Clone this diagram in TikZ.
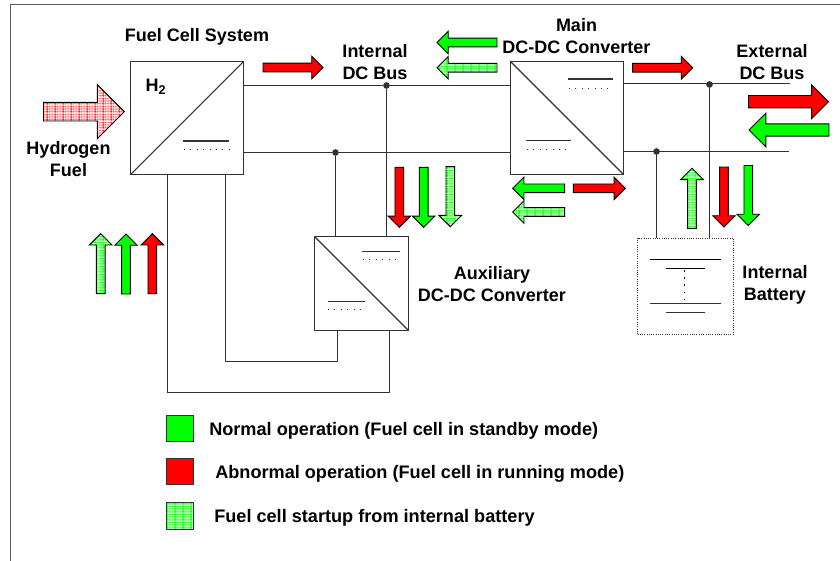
\documentclass[tikz,border=0pt]{standalone}
\usepackage{fontspec}
\setmainfont{Liberation Sans}
\usepackage{xcolor}
\usepackage{tikz}
\usetikzlibrary{shapes.arrows,patterns}

\definecolor{opgreen}{RGB}{0,255,0}
\definecolor{opred}{RGB}{255,0,0}
\definecolor{wiregray}{RGB}{50,50,50}

\pgfdeclarepatterninherentlycolored{startgrid}{\pgfqpoint{0pt}{0pt}}{\pgfqpoint{6pt}{6pt}}{\pgfqpoint{6pt}{6pt}}{
  \pgfsetfillcolor{opgreen}
  \pgfpathrectangle{\pgfqpoint{0pt}{0pt}}{\pgfqpoint{6pt}{6pt}}
  \pgfusepath{fill}
  \pgfsetfillcolor{white}
  \foreach \k in {0pt,1.5pt,3pt,4.5pt}{
    \pgfpathrectangle{\pgfqpoint{0pt}{\k}}{\pgfqpoint{6pt}{0.38pt}}
    \pgfpathrectangle{\pgfqpoint{\k}{0pt}}{\pgfqpoint{0.38pt}{6pt}}
  }
  \pgfusepath{fill}
}
\pgfdeclarepatterninherentlycolored{fuelgrid}{\pgfqpoint{0pt}{0pt}}{\pgfqpoint{6pt}{6pt}}{\pgfqpoint{6pt}{6pt}}{
  \pgfsetfillcolor{opred}
  \pgfpathrectangle{\pgfqpoint{0pt}{0pt}}{\pgfqpoint{6pt}{6pt}}
  \pgfusepath{fill}
  \pgfsetfillcolor{white}
  \foreach \k in {0pt,1.5pt,3pt,4.5pt}{
    \pgfpathrectangle{\pgfqpoint{0pt}{\k}}{\pgfqpoint{6pt}{0.62pt}}
    \pgfpathrectangle{\pgfqpoint{\k}{0pt}}{\pgfqpoint{0.62pt}{6pt}}
  }
  \pgfusepath{fill}
}

\tikzset{
  lbl/.style={font=\fontsize{13.5}{16.5}\selectfont\bfseries, align=center, inner sep=0pt},
  legendlbl/.style={font=\fontsize{13.6}{16}\selectfont\bfseries, anchor=west, inner sep=0pt},
  wire/.style={draw=wiregray, line width=0.8pt},
  convbox/.style={draw=wiregray, line width=0.9pt, fill=white, inner sep=0pt, outer sep=0pt},
  solidbar/.style={line width=0.8pt, draw=wiregray},
  dotbar/.style={line width=0.7pt, draw=wiregray, dash pattern=on 0.8pt off 4pt},
  busdot/.style={circle, fill=wiregray, inner sep=0pt, minimum size=5pt},
  blockarrow/.style={shape=single arrow, draw=black, line width=0.7pt, inner xsep=0pt, inner ysep=2.9pt, outer sep=0pt,
    anchor=tail, minimum height=45pt, minimum width=16.5pt, single arrow head extend=5.2pt},
  shortarrow/.style={blockarrow, minimum height=39pt},
  bigarrow/.style={blockarrow, minimum height=60pt, inner ysep=4.3pt, minimum width=24.75pt, single arrow head extend=8pt},
  fuelarrow/.style={blockarrow, minimum height=60.6pt, inner ysep=6.6pt, minimum width=39.75pt, single arrow head extend=13.2pt},
  dirup/.style={rotate=90},
  dirdown/.style={rotate=-90},
  dirleft/.style={rotate=180},
  greenfill/.style={fill=opgreen},
  redfill/.style={fill=opred},
  startfill/.style={pattern=startgrid},
  fuelfill/.style={pattern=fuelgrid},
  legendbox/.style={draw=wiregray, line width=0.6pt, minimum size=19.8pt, inner sep=0pt}
}

\begin{document}
\begin{tikzpicture}[x=0.75pt, y=-0.75pt]
  \useasboundingbox (0,0) rectangle (840,561);
  \coordinate (framea) at (840,4.5);
  \coordinate (frameb) at (10.5,4.5);
  \coordinate (framec) at (10.5,561);
  \draw[draw=wiregray!80, line width=0.9pt] (framea) -- (frameb) -- (framec);

  % boxes
  \node[convbox, minimum size=84.75pt] (fuelcell) at (187,118) {};
  \node[convbox, minimum size=84.75pt] (mainconv) at (567,118) {};
  \node[convbox, minimum size=70.5pt] (auxconv) at (361.5,283.5) {};
  \node[draw=wiregray, densely dotted, line width=0.7pt, fill=white, minimum size=72pt, inner sep=0pt, outer sep=0pt] (battery) at (685.5,286) {};

  \draw[wire] (fuelcell.south west) -- (fuelcell.north east);
  \draw[wire] (mainconv.north west) -- (mainconv.south east);
  \draw[wire] (auxconv.north west) -- (auxconv.south east);

  % junctions
  \node[busdot] (dcplus) at (386.5,85.5) {};
  \node[busdot] (dcminus) at (335.5,152.5) {};
  \node[busdot] (extplus) at (709.5,84.5) {};
  \node[busdot] (extminus) at (656.5,151.5) {};
  \coordinate (extplusend) at (790,83.5);
  \coordinate (extminusend) at (789,151.5);
  \coordinate (outerloop) at (167.5,392.5);
  \coordinate (outerloopb) at (389.5,392.5);
  \coordinate (innerloop) at (225.5,361.5);
  \coordinate (innerloopb) at (337.5,361.5);

  % bus lines
  \draw[wire] (fuelcell.east |- dcplus) -- (dcplus) -- (mainconv.west |- dcplus);
  \draw[wire] (fuelcell.east |- dcminus) -- (dcminus) -- (mainconv.west |- dcminus);
  \draw[wire] (mainconv.east |- extplusend) -- (extplusend);
  \draw[wire] (mainconv.east |- extminusend) -- (extminusend);
  \draw[wire] (dcplus) -- (dcplus |- auxconv.north);
  \draw[wire] (dcminus) -- (dcminus |- auxconv.north);
  \draw[wire] (extplus) -- (extplus |- battery.north);
  \draw[wire] (extminus) -- (extminus |- battery.north);
  \draw[wire] (outerloop |- fuelcell.south) -- (outerloop) -- (outerloopb) -- (outerloopb |- auxconv.south);
  \draw[wire] (innerloop |- fuelcell.south) -- (innerloop) -- (innerloopb) -- (innerloopb |- auxconv.south);

  % level marks
  \draw[solidbar] (183,141) -- (229,141);
  \draw[dotbar] (184,149.5) -- (229,149.5);
  \draw[solidbar] (568,79) -- (613,79);
  \draw[dotbar] (569,88.5) -- (613,88.5);
  \draw[solidbar] (526,140.5) -- (571,140.5);
  \draw[dotbar] (527,149.5) -- (571,149.5);
  \draw[solidbar] (362,251.5) -- (400,251.5);
  \draw[dotbar] (363,259) -- (400,259);
  \draw[solidbar] (328,301.5) -- (365,301.5);
  \draw[dotbar] (328,309.5) -- (365,309.5);

  % cell plates
  \draw[solidbar, draw=black] (650,259.5) -- (721,259.5);
  \draw[solidbar, draw=black] (666,268.5) -- (705,268.5);
  \draw[solidbar, draw=black, dash pattern=on 1.2pt off 4.2pt] (684.5,270) -- (684.5,303);
  \draw[solidbar] (650,303.5) -- (721,303.5);
  \draw[solidbar] (666,312.5) -- (705,312.5);

  % block arrows
  \node[fuelarrow, fuelfill] (fuelin) at (43.5,111.7) {};
  \node[blockarrow, redfill] (busred) at (263,67.5) {};
  \node[blockarrow, greenfill, dirleft] (maingreen) at (497,42.5) {};
  \node[blockarrow, startfill, dirleft] (mainstart) at (497,67.7) {};
  \node[blockarrow, redfill] (mainred) at (632.7,67.7) {};
  \node[bigarrow, redfill] (extred) at (748.5,101.7) {};
  \node[bigarrow, greenfill, dirleft] (extgreen) at (829,130) {};
  \node[shortarrow, greenfill, dirleft] (lowgreen) at (564.7,188.3) {};
  \node[shortarrow, redfill] (lowred) at (573.3,188.3) {};
  \node[shortarrow, startfill, dirleft] (lowstart) at (564.7,212) {};
  \node[blockarrow, redfill, dirdown] (auxred) at (399.3,167.3) {};
  \node[blockarrow, greenfill, dirdown] (auxgreen) at (423.7,167.3) {};
  \node[blockarrow, startfill, dirdown] (auxstart) at (450.3,166.7) {};
  \node[blockarrow, startfill, dirup] (loopstart) at (100.7,293.7) {};
  \node[blockarrow, greenfill, dirup] (loopgreen) at (126,294) {};
  \node[blockarrow, redfill, dirup] (loopred) at (152.3,293.7) {};
  \node[blockarrow, startfill, dirup] (batstart) at (692,228.3) {};
  \node[blockarrow, redfill, dirdown] (batred) at (724,167) {};
  \node[blockarrow, greenfill, dirdown] (batgreen) at (748.3,165.5) {};

  % labels
  \node[lbl] (fuelcelllbl) at (197,37) {Fuel Cell System};
  \node[lbl] (hlbl) at (156,86.5) {H\textsubscript{\fontsize{9.5}{10}\selectfont 2}};
  \node[lbl] (fuellbl) at (68.5,159) {Hydrogen\\Fuel};
  \node[lbl] (buslbl) at (375,62) {Internal\\DC Bus};
  \node[lbl] (mainlbl) at (576.5,36) {Main\\DC-DC Converter};
  \node[lbl] (extlbl) at (772,62) {External\\DC Bus};
  \node[lbl] (auxlbl) at (492,284.5) {Auxiliary\\DC-DC Converter};
  \node[lbl] (batlbl) at (775,284.5) {Internal\\Battery};

  % legend
  \node[legendbox, fill=opgreen] (legnormal) at (180,428.2) {};
  \node[legendbox, fill=opred] (legabnormal) at (180,471.5) {};
  \node[legendbox, startfill] (legstart) at (180,515.8) {};
  \node[legendlbl] (normallbl) at (209,430.5) {Normal operation (Fuel cell in standby mode)};
  \node[legendlbl] (abnormallbl) at (215,474) {Abnormal operation (Fuel cell in running mode)};
  \node[legendlbl] (startlbl) at (214,517.5) {Fuel cell startup from internal battery};
\end{tikzpicture}
\end{document}
